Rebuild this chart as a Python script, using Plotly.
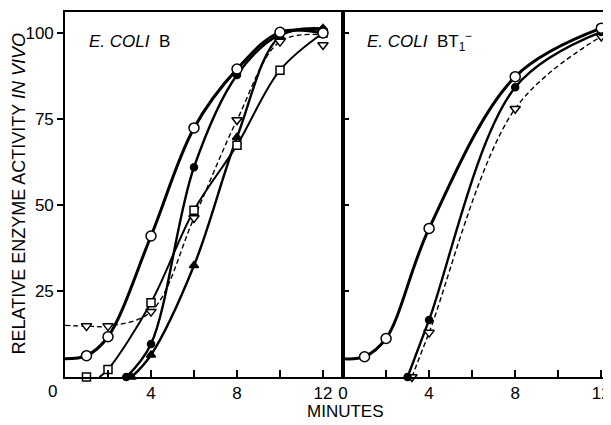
import plotly.graph_objects as go

# ---------------- data ----------------
# Left panel: E. coli B
b_open_t = [1, 2, 4, 6, 8, 10, 12]
b_open_v = [6.2, 11.7, 41, 72.4, 89.5, 100.2, 100]
b_open_start = [0, 5.3]

b_fcirc_t = [2.85, 4, 6, 8, 10, 12]
b_fcirc_v = [0, 9.6, 61, 87.8, 99.5, 101]

b_ftri_t = [3.1, 4, 6, 8, 10, 12]
b_ftri_v = [0, 6.4, 32.4, 69.7, 99, 101.3]

b_sq_t = [1, 2, 4, 6, 8, 10, 12]
b_sq_v = [0, 2.2, 21.6, 48.5, 67.4, 89.2, 100]
b_sq_start = [1.6, 0]

b_itri_t = [1, 2, 4, 6, 8, 10, 12]
b_itri_v = [14.8, 14.8, 19, 46.2, 74.7, 97.5, 96.5]
b_itri_start = [0, 15]
b_itri_end = [12, 99.5]

# Right panel: E. coli BT1-
r_open_t = [1, 2, 4, 8, 12]
r_open_v = [5.9, 11.2, 43.2, 87.3, 101.4]
r_open_start = [0, 5.3]

r_fcirc_t = [3, 4, 8, 12]
r_fcirc_v = [0, 16.6, 84.2, 100.3]

r_itri_t = [3.2, 4, 8, 12]
r_itri_v = [0, 12.9, 78, 99]

x_ticks_left = [4, 8, 12]
x_ticks_right = [0, 4, 8, 12]
x_minor_step = 2
y_ticks = [25, 50, 75, 100]

# ---------------- figure ----------------
FONT = "Liberation Sans, Arial, sans-serif"
fig = go.Figure()


def line(x, y, xa, ya, width=2.2, dash="solid"):
    fig.add_trace(go.Scatter(x=x, y=y, mode="lines", xaxis=xa, yaxis=ya,
                             line=dict(color="black", width=width, dash=dash,
                                       shape="spline", smoothing=1.0),
                             hoverinfo="skip", showlegend=False))


def marks(x, y, xa, ya, symbol, fill, size):
    fig.add_trace(go.Scatter(x=x, y=y, mode="markers", xaxis=xa, yaxis=ya,
                             marker=dict(symbol=symbol, color=fill, size=size,
                                         line=dict(color="black", width=1.5)),
                             cliponaxis=False, showlegend=False))


# left lines
line([b_sq_start[0]] + b_sq_t[1:], [b_sq_start[1]] + b_sq_v[1:], "x", "y", 2.0)
line([b_itri_start[0]] + b_itri_t[:-1] + [b_itri_end[0]],
     [b_itri_start[1]] + b_itri_v[:-1] + [b_itri_end[1]], "x", "y", 1.4, "5px,3px")
line(b_ftri_t, b_ftri_v, "x", "y", 2.4)
line(b_fcirc_t, b_fcirc_v, "x", "y", 2.4)
line([b_open_start[0]] + b_open_t, [b_open_start[1]] + b_open_v, "x", "y", 3.0)
# left markers
marks(b_sq_t, b_sq_v, "x", "y", "square", "white", 8)
marks(b_itri_t, b_itri_v, "x", "y", "triangle-down", "white", 9)
marks(b_ftri_t, b_ftri_v, "x", "y", "triangle-up", "black", 8)
marks(b_fcirc_t, b_fcirc_v, "x", "y", "circle", "black", 7)
marks(b_open_t, b_open_v, "x", "y", "circle", "white", 10)

# right lines
line(r_itri_t, r_itri_v, "x2", "y2", 1.4, "5px,3px")
line(r_fcirc_t, r_fcirc_v, "x2", "y2", 2.4)
line([r_open_start[0]] + r_open_t, [r_open_start[1]] + r_open_v, "x2", "y2", 3.0)
# right markers
marks(r_itri_t, r_itri_v, "x2", "y2", "triangle-down", "white", 9)
marks(r_fcirc_t, r_fcirc_v, "x2", "y2", "circle", "black", 7)
marks(r_open_t, r_open_v, "x2", "y2", "circle", "white", 10)

# page has an 8px body margin: figure is placed at (8, 8)
W, H = 603, 417
ML, MR, MT, MB = 57, 0, 4, 48
PW = W - ML - MR
PH = H - MT - MB
split = (343 - 65) / PW

axis_common = dict(showgrid=False, zeroline=False, showline=True, linecolor="black",
                   linewidth=1.6, tickcolor="black", tickwidth=1.5,
                   tickfont=dict(family=FONT, size=17, color="black"))
minor_x = dict(tick0=0, dtick=x_minor_step, ticks="inside", ticklen=7, tickwidth=1.5,
               tickcolor="black", showgrid=False)

fig.update_layout(
    width=W, height=H,
    margin=dict(l=ML, r=MR, t=MT, b=MB, pad=0),
    paper_bgcolor="white", plot_bgcolor="white",
    xaxis=dict(domain=[0, split], range=[0, 12.93], tickvals=x_ticks_left,
               ticks="inside", ticklen=7, mirror=True, minor=minor_x,
               anchor="y", **axis_common),
    xaxis2=dict(domain=[split, 1], range=[0, 12.45], tickvals=x_ticks_right,
                ticks="inside", ticklen=7, mirror=True, minor=minor_x,
                anchor="y2", **axis_common),
    yaxis=dict(domain=[0, 1], range=[0, 106.1], tickvals=y_ticks, ticks="outside",
               ticklen=6, mirror=True, anchor="x", **axis_common),
    yaxis2=dict(domain=[0, 1], range=[0, 106.1], tickvals=y_ticks, ticks="inside",
                ticklen=6, showticklabels=False, anchor="x2", **axis_common),
    annotations=[
        dict(text="<i>E. COLI</i>  B", x=1.02, y=97.4, xref="x", yref="y",
             xanchor="left", yanchor="middle", showarrow=False,
             font=dict(family=FONT, size=17, color="black")),
        dict(text="<i>E. COLI</i>  BT<sub>1</sub><sup>−</sup>", x=1.02, y=97.4,
             xref="x2", yref="y2", xanchor="left", yanchor="middle", showarrow=False,
             font=dict(family=FONT, size=17, color="black")),
        dict(text="0", x=(52 - 65) / PW, y=(377 - 391) / PH, xref="paper", yref="paper",
             xanchor="center", yanchor="middle", showarrow=False,
             font=dict(family=FONT, size=17, color="black")),
        dict(text="MINUTES", x=(345 - 65) / PW, y=(377 - 411) / PH, xref="paper",
             yref="paper", xanchor="center", yanchor="middle", showarrow=False,
             font=dict(family=FONT, size=17, color="black")),
        dict(text="RELATIVE ENZYME ACTIVITY <i>IN VIVO</i>", x=(18 - 65) / PW, y=0.5,
             xref="paper", yref="paper", xanchor="center", yanchor="middle",
             textangle=-90, showarrow=False,
             font=dict(family=FONT, size=18, color="black")),
    ],
)

fig.write_html("out.html")
